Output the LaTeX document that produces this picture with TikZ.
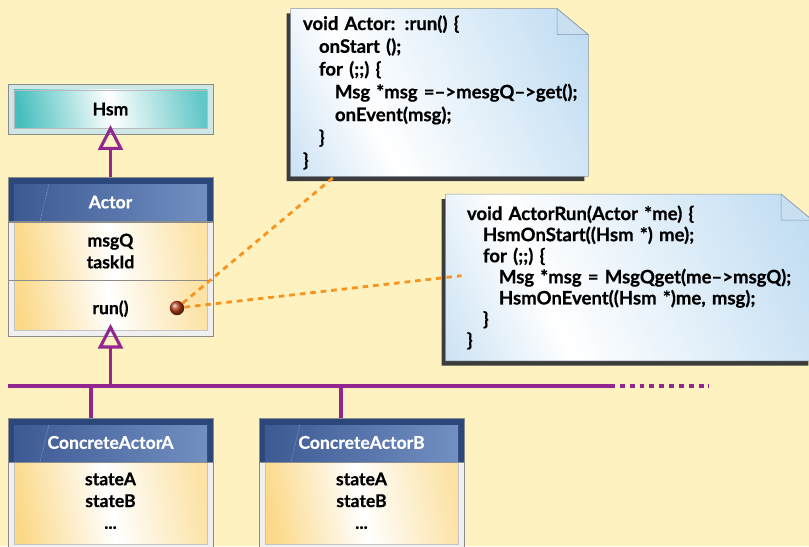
\documentclass[tikz,border=0pt]{standalone}
\usepackage{fontspec}
\setmainfont{Lato}[BoldFeatures={FakeBold=0.6}]
\usetikzlibrary{positioning,arrows.meta,calc,backgrounds}

\definecolor{paper}{HTML}{FEF2C1}
\definecolor{inherit}{HTML}{93278F}
\definecolor{hook}{HTML}{F7941D}
\definecolor{ballred}{HTML}{B8401A}
\definecolor{headL}{HTML}{3B5892}
\definecolor{headR}{HTML}{7391C3}
\definecolor{headrim}{HTML}{2C477A}
\definecolor{bodyL}{HTML}{FBD886}
\definecolor{bodyR}{HTML}{FCE2A4}
\definecolor{bodyrim}{HTML}{F0F0F0}
\definecolor{rimline}{HTML}{8C8C8C}
\definecolor{tealL}{HTML}{47BEBE}
\definecolor{tealR}{HTML}{62C7C7}
\definecolor{tealrim}{HTML}{CFE6E6}
\definecolor{noteL}{HTML}{9DC8EA}
\definecolor{noteR}{HTML}{A6CEED}
\definecolor{noteear}{HTML}{C9E0F2}
\definecolor{noteline}{HTML}{8796A4}
\definecolor{noteshadow}{HTML}{3C3C3C}

% blue wash of the code notes, lightest a third of the way in
\pgfdeclarehorizontalshading{notewash}{100bp}{color(0bp)=(noteL); color(36bp)=(white); color(100bp)=(noteR)}

\newcommand{\classfont}{\fontsize{12.5}{15.5}\selectfont\bfseries}
\newcommand{\codeind}{\hspace*{0.4cm}}

\begin{document}
\begin{tikzpicture}[x=0.025cm, y=-0.025cm,
  topclass/.style={minimum width=5.125cm, minimum height=1.25cm, inner sep=0pt,
    font=\classfont, fill=tealrim, draw=rimline,
    path picture={\shadedraw[draw=rimline!60, left color=tealL, right color=tealR, middle color=white, shading angle=100]
      ([shift={(0.15cm,-0.15cm)}]path picture bounding box.north west) rectangle
      ([shift={(-0.15cm,0.15cm)}]path picture bounding box.south east);}},
  classhead/.style={minimum width=5.125cm, minimum height=1.1cm, inner sep=0pt,
    text height=0.52cm, text depth=0.08cm,
    font=\classfont, text=white, fill=headrim, draw=rimline,
    path picture={\shade[left color=headL, right color=headR]
      ([shift={(0.15cm,-0.18cm)}]path picture bounding box.north west) rectangle
      ([xshift=-0.15cm]path picture bounding box.south east);
      \draw[white, densely dotted, opacity=0.6]
      ([xshift=0.8cm]path picture bounding box.south west) --
      ([shift={(1.02cm,-0.18cm)}]path picture bounding box.north west);}},
  midpart/.style={minimum width=5.125cm, inner sep=0pt, align=center,
    font=\classfont, fill=bodyrim, draw=rimline,
    path picture={\shadedraw[draw=rimline!50, left color=bodyL, right color=bodyR, middle color=white, shading angle=100]
      ([xshift=0.15cm]path picture bounding box.north west) rectangle
      ([xshift=-0.15cm]path picture bounding box.south east);}},
  endpart/.style={minimum width=5.125cm, inner sep=0pt, align=center,
    font=\classfont, fill=bodyrim, draw=rimline,
    path picture={\shadedraw[draw=rimline!50, left color=bodyL, right color=bodyR, middle color=white, shading angle=100]
      ([xshift=0.15cm]path picture bounding box.north west) rectangle
      ([shift={(-0.15cm,0.15cm)}]path picture bounding box.south east);}},
  codenote/.style={align=left, inner ysep=0pt, font=\fontsize{13.2}{16.2}\selectfont\bfseries},
  hookball/.style={circle, inner sep=0pt, minimum size=0.36cm, shading=ball, ball color=ballred},
  isa/.style={draw=inherit, line width=2.2pt, -{Triangle[open, length=0.62cm, width=0.62cm]}},
  link/.style={draw=inherit, line width=2.2pt},
  hookline/.style={draw=hook, line width=2pt, dash pattern=on 4pt off 3.5pt}
]
  \useasboundingbox (0,0) rectangle (809,546);

  % class boxes
  \node[topclass] (hsm) at (110.5,109) {Hsm};
  \node[classhead] (actor) at (110.5,199.5) {Actor};
  \node[midpart, minimum height=1.45cm, below=0pt of actor] (actorattr) {msgQ\\taskId};
  \node[endpart, minimum height=1.4cm, below=0pt of actorattr] (actorops) {run()};

  \node[classhead] (concA) at (110.5,440) {ConcreteActorA};
  \node[endpart, minimum height=2.2cm, below=0pt of concA] (concAattr) {stateA\\stateB\\...\\[-0.25cm]};
  \node[classhead] (concB) at (361.5,440) {ConcreteActorB};
  \node[endpart, minimum height=2.2cm, below=0pt of concB] (concBattr) {stateA\\stateB\\...\\[-0.25cm]};

  % code notes
  \node[codenote, text width=6.825cm, inner xsep=0.3cm, minimum height=4.175cm] (runnote) at (439.5,92.5)
    {void Actor: :run() \{\\
     \codeind onStart ();\\
     \codeind for (;;) \{\\
     \mbox{\codeind\codeind Msg *msg =\textendash>mesgQ\textendash>get();}\\
     \codeind\codeind onEvent(msg);\\
     \codeind \}\\
     \}};
  \node[codenote, text width=8.1cm, inner xsep=0.525cm, minimum height=4.15cm,
        font=\fontsize{13.2}{15}\selectfont\bfseries] (cnote) at (629,277.5)
    {void ActorRun(Actor *me) \{\\
     \codeind HsmOnStart((Hsm *) me);\\
     \codeind for (;;) \{\\
     \mbox{\codeind\codeind Msg *msg = MsgQget(me\textendash>msgQ);}\\
     \codeind\codeind HsmOnEvent((Hsm *)me, msg);\\
     \codeind \}\\
     \}};

  % inheritance
  \coordinate (busL) at (8,386);
  \coordinate (busS) at (610,386);
  \coordinate (busE) at (709,386);
  \coordinate (dropA) at (91,386);
  \coordinate (dropB) at (341,386);
  \draw[isa, shorten >=-0.23cm] (actor.north) -- (hsm.south);
  \draw[isa, shorten >=-0.33cm] (actorops.south |- busL) -- (actorops.south);
  \draw[link] (busL) -- (busS);
  \draw[link, dash pattern=on 3.5pt off 3.5pt] (busS) -- (busE);
  \draw[link] (dropA) -- (dropA |- concA.north);
  \draw[link] (dropB) -- (dropB |- concB.north);

  % run() implementations
  \node[hookball] (hook) at (177,308) {};
  \draw[hookline] (hook) -- ([xshift=1.1cm]runnote.south west);
  \draw[hookline, shorten >=-0.4cm] (hook) -- (cnote.west);

  \begin{scope}[on background layer]
    \fill[paper] (0,0) rectangle (809,546);
    \foreach \n in {runnote,cnote}{
      \fill[noteshadow] ([shift={(-0.1cm,-0.12cm)}]\n.north west)
        -- ([shift={(-0.88cm,-0.12cm)}]\n.north east)
        -- ([shift={(-0.1cm,-0.77cm)}]\n.north east)
        -- ([shift={(-0.1cm,-0.12cm)}]\n.south east)
        -- ([shift={(-0.1cm,-0.12cm)}]\n.south west) -- cycle;
      \path[draw=noteline, shading=notewash, shading angle=25]
        (\n.north west) -- ([xshift=-0.78cm]\n.north east)
        -- ([yshift=-0.65cm]\n.north east) -- (\n.south east) -- (\n.south west) -- cycle;
      \filldraw[fill=noteear, draw=noteline] ([xshift=-0.78cm]\n.north east)
        -- ([shift={(-0.78cm,-0.65cm)}]\n.north east) -- ([yshift=-0.65cm]\n.north east) -- cycle;
    }
  \end{scope}
\end{tikzpicture}
\end{document}
